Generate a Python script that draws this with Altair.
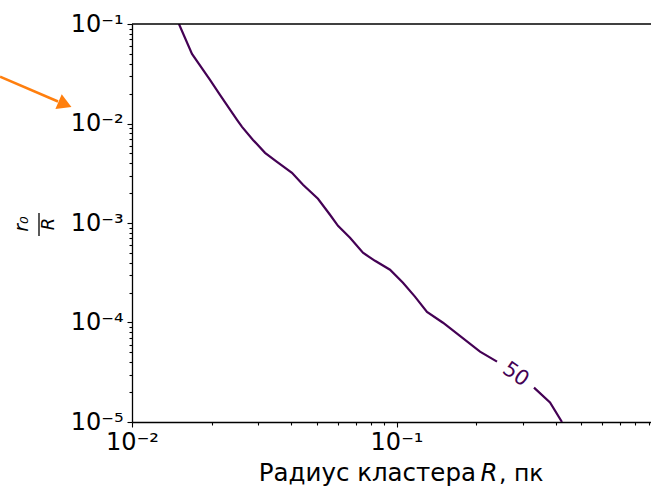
import altair as alt
import pandas as pd

# ---- contour "50" (cluster radius R [pc], r0/R) ----
seg_a_R = [0.01505, 0.01686, 0.01972, 0.02151, 0.02495, 0.02606, 0.02868, 0.03184,
           0.03533, 0.04025, 0.04431, 0.05048, 0.05605, 0.06009, 0.06672, 0.07467,
           0.08295, 0.09449, 0.1058, 0.1174, 0.1304, 0.1499, 0.2069, 0.2399]
seg_a_r = [0.1, 0.0500, 0.0274, 0.0194, 0.0109, 0.00925, 0.00684, 0.00507,
           0.00412, 0.00319, 0.00242, 0.00175, 0.00121, 0.000937, 0.000710, 0.000502,
           0.000417, 0.000339, 0.000251, 0.000182, 0.000128, 0.0000995, 0.0000509, 0.0000404]
seg_b_R = [0.3310, 0.3805, 0.4223]
seg_b_r = [0.00002215, 0.0000157, 0.00001]

label_R = [0.2818]
label_r = [0.0000299]
label_txt = ["50"]

x_decades = [0.01, 0.1]
x_labels = ["10⁻²", "10⁻¹"]
y_decades = [1e-5, 1e-4, 1e-3, 1e-2, 1e-1]
y_labels = ["10⁻⁵", "10⁻⁴", "10⁻³", "10⁻²", "10⁻¹"]

x_ticks = [m * d for d in x_decades for m in range(1, 10)]
y_ticks = [m * d for d in y_decades[:-1] for m in range(1, 10)] + [y_decades[-1]]

W, H = 519, 398
FONT = "DejaVu Sans"
PURPLE = "#440154"

def label_expr(decades, labels):
    e = "''"
    for d, l in zip(decades, labels):
        e = f"abs(datum.value - {d!r}) < {d * 1e-6!r} ? '{l}' : " + e
    return e

is_major = "abs(log(datum.value)/LN10 - round(log(datum.value)/LN10)) < 0.001"

rows = []
for i, (a, b) in enumerate(zip(seg_a_R, seg_a_r)):
    rows.append({"R": a, "r": b, "seg": "a", "i": i})
for i, (a, b) in enumerate(zip(seg_b_R, seg_b_r)):
    rows.append({"R": a, "r": b, "seg": "b", "i": i})
df = pd.DataFrame(rows)

xscale = alt.Scale(type="log", domain=[0.01, 0.9166], nice=False)
yscale = alt.Scale(type="log", domain=[1e-5, 0.1], nice=False)

common_axis = dict(
    grid=False, title=None, labelFont=FONT, labelFontSize=24, labelColor="black",
    domainColor="black", domainWidth=1.3, tickColor="black", tickWidth=1.1,
    labelFlush=False, labelOverlap=False,
    tickSize={"condition": {"test": is_major, "value": 5}, "value": 3},
)

line = alt.Chart(df).mark_line(color=PURPLE, strokeWidth=2.2, clip=True).encode(
    x=alt.X("R:Q", scale=xscale,
            axis=alt.Axis(values=x_ticks, labelExpr=label_expr(x_decades, x_labels),
                          labelPadding=3, **common_axis)),
    y=alt.Y("r:Q", scale=yscale,
            axis=alt.Axis(values=y_ticks, labelExpr=label_expr(y_decades, y_labels),
                          labelPadding=4, **common_axis)),
    detail="seg:N",
    order="i:Q",
)

lab = alt.Chart(pd.DataFrame({"R": label_R, "r": label_r, "t": label_txt})).mark_text(
    font=FONT, fontSize=21, color=PURPLE, angle=35, align="center", baseline="middle"
).encode(x=alt.X("R:Q", scale=xscale), y=alt.Y("r:Q", scale=yscale), text="t:N")

one = pd.DataFrame({"k": [0]})

top_spine = alt.Chart(one).mark_rule(color="black", strokeWidth=1.3).encode(
    x=alt.value(0), x2=alt.value(W), y=alt.value(0))

# y-axis title: fraction r0 / R, rotated
num = alt.Chart(pd.DataFrame({"t": ["r₀"]})).mark_text(
    font=FONT, fontSize=19, fontStyle="italic", angle=270, align="center", baseline="middle", color="black"
).encode(text="t:N", x=alt.value(-110), y=alt.value(200))
bar = alt.Chart(one).mark_rule(color="black", strokeWidth=1.3).encode(
    x=alt.value(-93), y=alt.value(189), y2=alt.value(212))
den = alt.Chart(pd.DataFrame({"t": ["R"]})).mark_text(
    font=FONT, fontSize=18, fontStyle="italic", angle=270, align="center", baseline="middle", color="black"
).encode(text="t:N", x=alt.value(-83), y=alt.value(200))

# x-axis title: "Радиус кластера R, пк" with italic R
XT = 24.5
xt1 = alt.Chart(pd.DataFrame({"t": ["Радиус кластера"]})).mark_text(
    font=FONT, fontSize=XT, align="right", baseline="alphabetic", color="black"
).encode(text="t:N", x=alt.value(344), y=alt.value(457))
xt2 = alt.Chart(pd.DataFrame({"t": ["R"]})).mark_text(
    font=FONT, fontSize=XT, fontStyle="italic", align="center", baseline="alphabetic", color="black"
).encode(text="t:N", x=alt.value(357), y=alt.value(457))
xt3 = alt.Chart(pd.DataFrame({"t": [", пк"]})).mark_text(
    font=FONT, fontSize=XT - 1, align="left", baseline="alphabetic", color="black"
).encode(text="t:N", x=alt.value(367), y=alt.value(457))

# orange annotation arrow
arrow_line = alt.Chart(one).mark_rule(color="#ff7f0e", strokeWidth=2.6).encode(
    x=alt.value(-132), x2=alt.value(-74), y=alt.value(52.7), y2=alt.value(77.5))
arrow_head = alt.Chart(one).mark_point(
    shape="triangle-right", filled=True, color="#ff7f0e", opacity=1, angle=23, size=260
).encode(x=alt.value(-67), y=alt.value(80.3))

chart = alt.layer(
    line, lab, top_spine, num, bar, den, xt1, xt2, xt3, arrow_line, arrow_head
).properties(
    width=W, height=H,
    autosize=alt.AutoSizeParams(type="none"),
    padding={"left": 132, "top": 24, "right": 0, "bottom": 64},
    background="white",
).configure_view(strokeWidth=0)

chart.save("out.html", embed_options={"renderer": "svg", "actions": False})
